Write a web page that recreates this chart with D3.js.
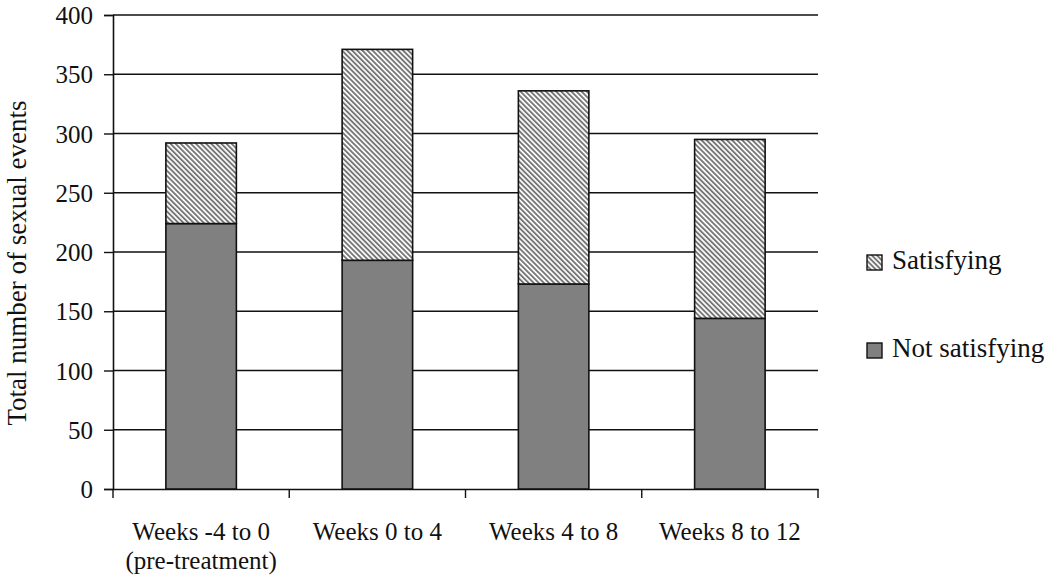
<!DOCTYPE html>
<html>
<head>
<meta charset="utf-8">
<script src="https://cdn.jsdelivr.net/npm/d3@7"></script>
<style>
  html, body { margin: 0; padding: 0; background: #fff; }
  svg { display: block; }
  svg text { font-family: "Liberation Serif", "Times New Roman", serif !important; fill: #111; }
</style>
</head>
<body>
<svg id="chart" width="1050" height="584"></svg>
<script>
const categories = ["Weeks -4 to 0|(pre-treatment)", "Weeks 0 to 4", "Weeks 4 to 8", "Weeks 8 to 12"];
const notSatisfying = [224, 193, 173, 144];
const satisfying = [68, 178, 163, 151];
const seriesNames = ["Satisfying", "Not satisfying"];
const yTicks = [0, 50, 100, 150, 200, 250, 300, 350, 400];

const SERIF = "'Liberation Serif', 'Times New Roman', serif";
const svg = d3.select("#chart");
const mLeft = 113, mRight = 818, mTop = 15, mBottom = 489;

const x = d3.scaleBand().domain(categories).range([mLeft, mRight]).paddingInner(0.6).paddingOuter(0.3);
const y = d3.scaleLinear().domain([0, 400]).range([mBottom, mTop]);

// hatch pattern
const defs = svg.append("defs");
const pat = defs.append("pattern")
  .attr("id", "hatch")
  .attr("patternUnits", "userSpaceOnUse")
  .attr("width", 3.6).attr("height", 10)
  .attr("patternTransform", "rotate(-45)");
pat.append("rect").attr("width", 3.6).attr("height", 10).attr("fill", "#fff");
pat.append("rect").attr("width", 1.9).attr("height", 10).attr("fill", "#777");

// gridlines
svg.append("g").selectAll("line").data(yTicks.filter(d => d > 0)).join("line")
  .attr("x1", mLeft).attr("x2", mRight)
  .attr("y1", d => y(d)).attr("y2", d => y(d))
  .attr("stroke", "#111").attr("stroke-width", 1.4);

// y axis
const yAxis = svg.append("g").attr("transform", `translate(${mLeft},0)`)
  .call(d3.axisLeft(y).tickValues(yTicks).tickSize(9).tickPadding(11));
yAxis.attr("font-family", null).attr("font-size", null);
yAxis.select(".domain").attr("stroke", "#111").attr("stroke-width", 1.6);
yAxis.selectAll(".tick line").attr("stroke", "#111").attr("stroke-width", 1.4);
yAxis.selectAll(".tick text").style("font-size", "25px").style("font-family", SERIF).attr("fill", "#111").attr("dy", "0.34em");

// x axis
const xAxis = svg.append("g").attr("transform", `translate(0,${mBottom})`)
  .call(d3.axisBottom(x).tickSize(0).tickFormat(""));
xAxis.select(".domain").attr("stroke", "#111").attr("stroke-width", 1.6);
const boundaries = categories.map(c => x(c) - x.step() * x.paddingOuter()).concat([mRight]);
svg.append("g").selectAll("line").data(boundaries).join("line")
  .attr("x1", d => d).attr("x2", d => d)
  .attr("y1", mBottom).attr("y2", mBottom + 9)
  .attr("stroke", "#111").attr("stroke-width", 1.4);

// x labels
const xl = svg.append("g").selectAll("text").data(categories).join("text")
  .attr("x", d => x(d) + x.bandwidth() / 2)
  .attr("y", 540)
  .attr("text-anchor", "middle")
  .style("font-family", SERIF)
  .style("font-size", "25px");
xl.each(function(d) {
  const parts = d.split("|");
  const t = d3.select(this);
  parts.forEach((p, i) => {
    t.append("tspan").attr("x", x(d) + x.bandwidth() / 2).attr("dy", i === 0 ? 0 : 29).text(p);
  });
});

// bars
const g = svg.append("g");
g.selectAll("rect.ns").data(categories).join("rect").attr("class", "ns")
  .attr("x", d => x(d)).attr("width", x.bandwidth())
  .attr("y", (d, i) => y(notSatisfying[i]))
  .attr("height", (d, i) => y(0) - y(notSatisfying[i]))
  .attr("fill", "#808080").attr("stroke", "#111").attr("stroke-width", 1.6);
g.selectAll("rect.s").data(categories).join("rect").attr("class", "s")
  .attr("x", d => x(d)).attr("width", x.bandwidth())
  .attr("y", (d, i) => y(notSatisfying[i] + satisfying[i]))
  .attr("height", (d, i) => y(notSatisfying[i]) - y(notSatisfying[i] + satisfying[i]))
  .attr("fill", "url(#hatch)").attr("stroke", "#111").attr("stroke-width", 1.6);

// y title
svg.append("text")
  .attr("transform", `translate(26,263) rotate(-90)`)
  .attr("text-anchor", "middle")
  .style("font-family", SERIF)
  .style("font-size", "27px")
  .text("Total number of sexual events");

// legend
const legendY = [262, 350];
const legendFill = ["url(#hatch)", "#808080"];
const lg = svg.append("g").selectAll("g").data(seriesNames).join("g")
  .attr("transform", (d, i) => `translate(867,${legendY[i]})`);
lg.append("rect").attr("x", 0).attr("y", -7).attr("width", 15).attr("height", 15)
  .attr("fill", (d, i) => legendFill[i]).attr("stroke", "#111").attr("stroke-width", 1.4);
lg.append("text").attr("x", 25).attr("y", 7)
  .style("font-family", SERIF).style("font-size", "27px").text(d => d);
</script>
</body>
</html>
